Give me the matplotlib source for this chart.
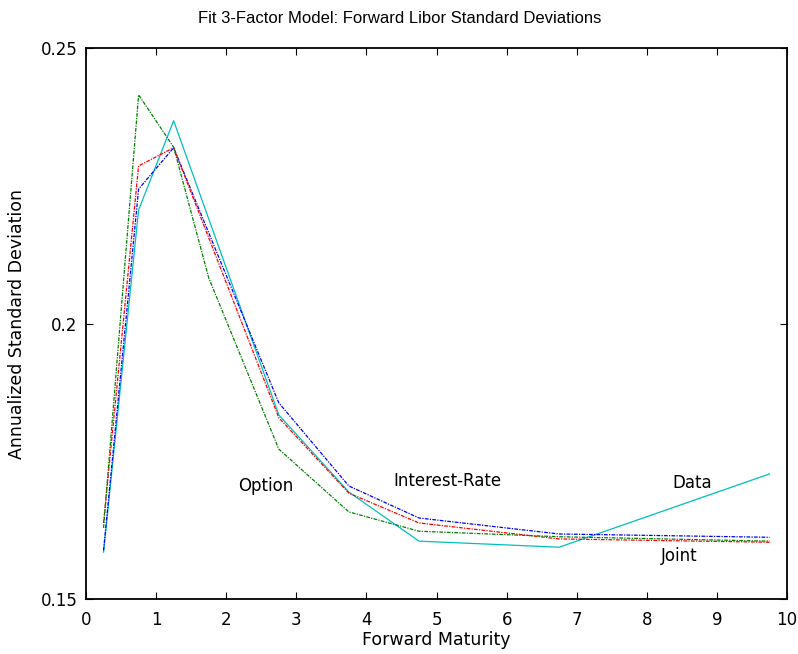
import matplotlib
matplotlib.use("Agg")
import matplotlib.pyplot as plt

# forward maturities (years)
maturity = [0.25, 0.75, 1.25, 2.75, 3.75, 4.75, 6.75, 9.75]
maturity_opt = [0.25, 0.75, 1.25, 1.75, 2.75, 3.75, 4.75, 6.75, 9.75]

data_sd = [0.1585, 0.2206, 0.2368, 0.1834, 0.1694, 0.1605, 0.1594, 0.1727]
rate_sd = [0.1588, 0.2244, 0.2319, 0.1856, 0.1705, 0.1647, 0.1618, 0.1612]
joint_sd = [0.1638, 0.2286, 0.2319, 0.1829, 0.1692, 0.1638, 0.1609, 0.1603]
option_sd = [0.1629, 0.2415, 0.2320, 0.2083, 0.1772, 0.1658, 0.1623, 0.1613, 0.1605]

plt.rcParams['font.family'] = ['DejaVu Sans']

fig = plt.figure(figsize=(7.98, 6.54), dpi=100)
ax = fig.add_axes([0.1078, 0.0841, 0.8785, 0.8425])

dashdot = (0, (3, 1, 1, 1))
ax.plot(maturity, data_sd, color='#00bfbf', lw=0.9, ls='-')
ax.plot(maturity, rate_sd, color='#0000ff', lw=0.9, ls=dashdot)
ax.plot(maturity, joint_sd, color='#ff0000', lw=0.9, ls=dashdot)
ax.plot(maturity_opt, option_sd, color='#008000', lw=0.9, ls=dashdot)

ax.text(2.57, 0.1705, 'Option', ha='center', va='center', fontsize=12)
ax.text(5.16, 0.1714, 'Interest-Rate', ha='center', va='center', fontsize=12)
ax.text(8.64, 0.1710, 'Data', ha='center', va='center', fontsize=12)
ax.text(8.46, 0.1578, 'Joint', ha='center', va='center', fontsize=12)

ax.set_xlim(0, 10)
ax.set_ylim(0.15, 0.25)
ax.set_xticks(range(0, 11))
ax.set_yticks([0.15, 0.2, 0.25])
ax.set_yticklabels(['0.15', '0.2', '0.25'])
ax.tick_params(direction='in', top=True, right=True, labelsize=12, length=5, width=0.8)
ax.tick_params(axis='x', pad=9)
ax.tick_params(axis='y', pad=6)
for s in ax.spines.values():
    s.set_linewidth(1.3)

ax.set_title('Fit 3-Factor Model: Forward Libor Standard Deviations',
             fontsize=12, pad=18, family='Liberation Sans', x=0.447)
ax.set_xlabel('Forward Maturity', fontsize=12.5)
ax.set_ylabel('Annualized Standard Deviation', fontsize=12.5)
ax.xaxis.set_label_coords(0.5, -0.058)
ax.yaxis.set_label_coords(-0.0856, 0.5)

fig.savefig('out.png', dpi=100)
